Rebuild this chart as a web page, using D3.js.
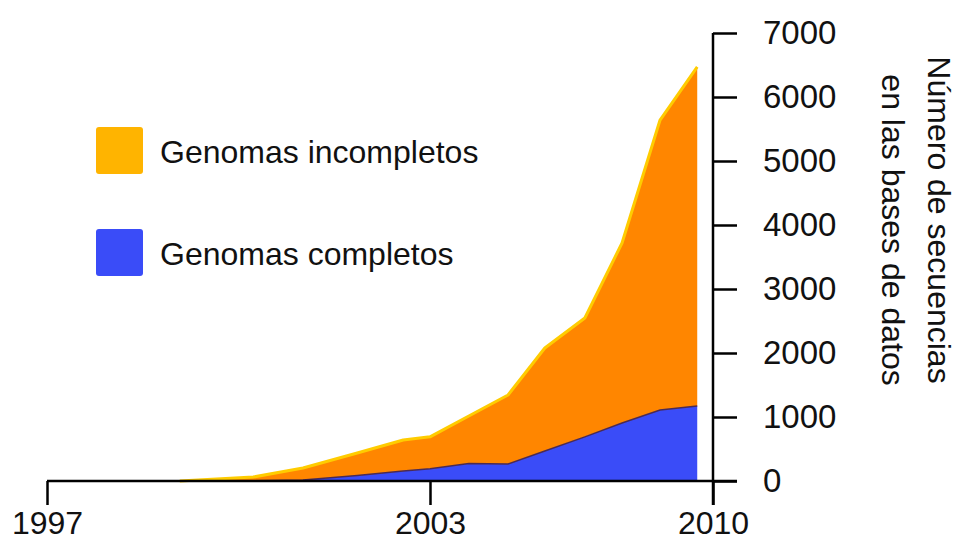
<!DOCTYPE html>
<html>
<head>
<meta charset="utf-8">
<script src="https://cdn.jsdelivr.net/npm/d3@7/dist/d3.min.js"></script>
<style>
  html, body { margin: 0; padding: 0; background: #fff; }
  svg { display: block; font-family: "Liberation Sans", Arial, sans-serif; }
</style>
</head>
<body>
<svg id="chart" width="959" height="542"></svg>
<script>
// ---- data ----
const years      = [1999.08, 2000.23, 2001.01, 2001.86, 2002.58, 2003.0, 2003.96, 2004.93, 2005.84, 2006.83, 2007.75, 2008.69, 2009.61];
const complete   = [0, 5, 16, 86, 156, 190, 275, 266, 470, 690, 906, 1109, 1172];
const incomplete = [0, 57, 187, 351, 484, 500, 741, 1078, 1608, 1857, 2813, 4531, 5297];
const xTickYears = [1997, 2003, 2010];
const yTicks     = [0, 1000, 2000, 3000, 4000, 5000, 6000, 7000];
const seriesKeys   = ["complete", "incomplete"];
const legendLabels = ["Genomas incompletos", "Genomas completos"];
const axisTitle    = ["Número de secuencias", "en las bases de datos"];

// ---- setup ----
const svg = d3.select("#chart");
const x = d3.scaleLinear().domain([1997, 2003, 2010]).range([47, 430, 713]);
const y = d3.scaleLinear().domain([0, 7000]).range([481, 33]);

const table = years.map((yr, i) => ({ year: yr, complete: complete[i], incomplete: incomplete[i] }));
const stacked = d3.stack().keys(seriesKeys)(table);

const fills = { complete: "#3a4cf8", incomplete: "#ff8600" };

const area = d3.area()
  .x(d => x(d.data.year))
  .y0(d => y(d[0]))
  .y1(d => y(d[1]));

svg.append("g").selectAll("path")
  .data(stacked)
  .join("path")
  .attr("d", area)
  .attr("fill", d => fills[d.key]);

// top edge of the incomplete band (yellow rim)
const topLine = d3.line().x(d => x(d.data.year)).y(d => y(d[1]));
svg.append("path")
  .attr("d", topLine(stacked[1]))
  .attr("fill", "none")
  .attr("stroke", "#ffcc00")
  .attr("stroke-width", 3)
  .attr("stroke-linejoin", "round");

// boundary between blue and orange
svg.append("path")
  .attr("d", topLine(stacked[0]))
  .attr("fill", "none")
  .attr("stroke", "#4a2a55")
  .attr("stroke-width", 1.5);

// ---- axes ----
const tickLen = 24;
const xAxis = d3.axisBottom(x)
  .tickValues(xTickYears)
  .tickFormat(d3.format("d"))
  .tickSize(tickLen)
  .tickPadding(6);
const gx = svg.append("g").attr("transform", `translate(0,${y(0)})`).call(xAxis);
gx.select(".domain").remove();
gx.selectAll(".tick line").attr("stroke", "#000").attr("stroke-width", 2.5);
gx.selectAll(".tick text").attr("font-size", 32).attr("fill", "#111")
  .attr("font-family", "'Liberation Sans', Arial, sans-serif");

const yAxis = d3.axisRight(y)
  .tickValues(yTicks)
  .tickFormat(d3.format("d"))
  .tickSize(tickLen)
  .tickPadding(26);
const gy = svg.append("g").attr("transform", `translate(${x(2010)},0)`).call(yAxis);
gy.select(".domain").remove();
gy.selectAll(".tick line").attr("stroke", "#000").attr("stroke-width", 2.5);
gy.selectAll(".tick text").attr("font-size", 33).attr("fill", "#111")
  .attr("font-family", "'Liberation Sans', Arial, sans-serif");

// axis lines
svg.append("line")
  .attr("x1", x(1997)).attr("x2", x(2010) + tickLen)
  .attr("y1", y(0)).attr("y2", y(0))
  .attr("stroke", "#000").attr("stroke-width", 2.5);
svg.append("line")
  .attr("x1", x(2010)).attr("x2", x(2010))
  .attr("y1", y(7000)).attr("y2", y(0) + tickLen)
  .attr("stroke", "#000").attr("stroke-width", 2.5);

// ---- y axis title (rotated) ----
svg.append("text")
  .attr("transform", "translate(928,220) rotate(90)")
  .attr("text-anchor", "middle")
  .attr("font-size", 32).attr("fill", "#111")
  .text(axisTitle[0]);
svg.append("text")
  .attr("transform", "translate(882,230) rotate(90)")
  .attr("text-anchor", "middle")
  .attr("font-size", 32).attr("fill", "#111")
  .text(axisTitle[1]);

// ---- legend ----
const legendColors = ["#ffb400", "#3a4cf8"];
const legendY = [127, 229];
const lg = svg.append("g");
legendLabels.forEach((lab, i) => {
  lg.append("rect")
    .attr("x", 96).attr("y", legendY[i])
    .attr("width", 47).attr("height", 47)
    .attr("rx", 3)
    .attr("fill", legendColors[i]);
  lg.append("text")
    .attr("x", 160).attr("y", legendY[i] + 36)
    .attr("font-size", 32).attr("fill", "#111")
    .text(lab);
});
</script>
</body>
</html>
